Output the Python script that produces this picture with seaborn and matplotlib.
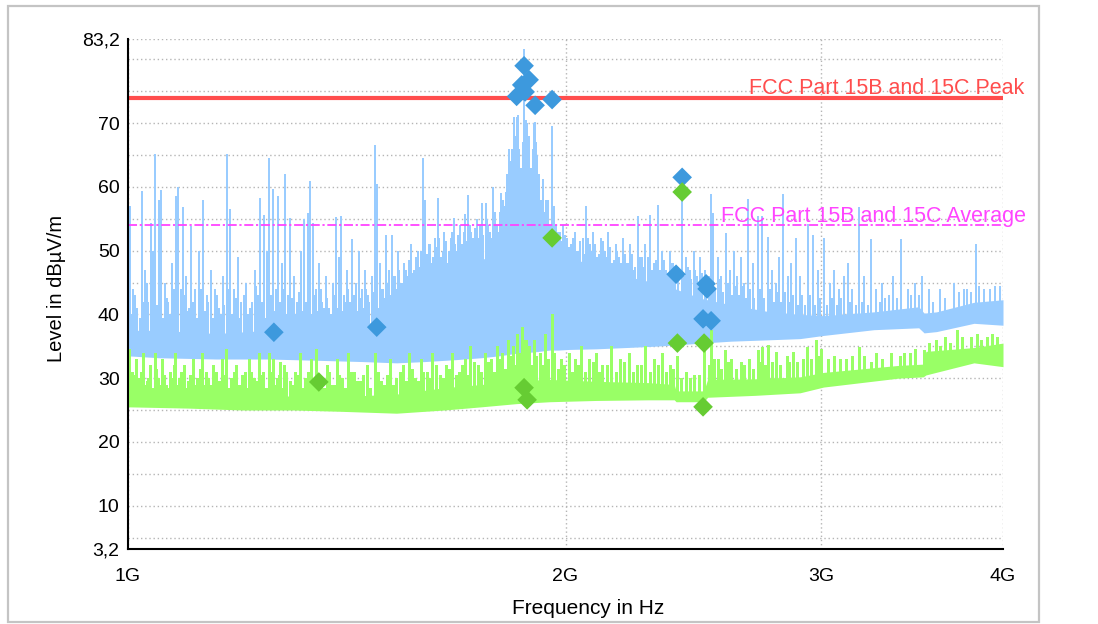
import numpy as np
import matplotlib
matplotlib.use("Agg")
import matplotlib.pyplot as plt
import seaborn as sns
from matplotlib.ticker import FixedLocator, NullLocator, FuncFormatter
from matplotlib.patches import Rectangle

# ---------------- data (MHz / dBµV/m) ----------------
# Peak trace: dense noise band
peak_band_mhz = [1000, 1050, 1150, 1250, 1350, 1450, 1530, 1600, 1680, 1750, 1800, 1850, 1900, 1951,
                 1977, 2010, 2100, 2200, 2300, 2380, 2480, 2600, 2750, 2900, 3010, 3260, 3500, 3530,
                 3600, 3820, 4000]
peak_band_low = [33.5, 33.2, 33.0, 33.0, 32.8, 32.6, 32.4, 32.6, 32.9, 33.2, 33.5, 33.9, 34.1, 34.4,
                 34.4, 34.5, 34.6, 34.8, 35.0, 35.2, 35.5, 35.8, 36.0, 36.2, 36.7, 37.6, 37.9, 37.1,
                 37.3, 38.6, 38.3]
peak_band_high = [37.5, 37.5, 37.0, 37.5, 37.5, 38.0, 41.0, 44.0, 46.5, 48.5, 50.0, 52.0, 52.0, 52.0,
                  50.0, 49.0, 47.5, 46.0, 45.0, 44.0, 42.5, 41.5, 40.5, 40.0, 39.8, 40.4, 41.2, 40.2,
                  40.4, 41.9, 42.3]

# Peak trace: emission cluster around 1.87 GHz
peak_cluster_mhz = [1806, 1812, 1818, 1823, 1828, 1833, 1838, 1843, 1848, 1853, 1858, 1863, 1868, 1873,
                    1878, 1883, 1888, 1893, 1898, 1903, 1908, 1913, 1918, 1924, 1930, 1937, 1944, 1951,
                    1958]
peak_cluster_db = [55, 58, 57, 62, 65, 64, 66, 70, 68, 71, 66, 63, 67, 72,
                   65, 70, 68, 63, 66, 70, 67, 60, 62, 58, 60, 56, 58, 54, 56]

# Peak trace: low spike forest
peak_forest_mhz = [1005, 1011, 1019, 1025, 1030, 1039, 1047, 1052, 1057, 1063, 1069, 1075, 1081, 1089,
                   1093, 1099, 1108, 1115, 1123, 1130, 1136, 1144, 1151, 1158, 1165, 1172, 1180, 1187,
                   1194, 1201, 1209, 1218, 1225, 1231, 1237, 1244, 1255, 1262, 1272, 1280, 1286, 1296,
                   1304, 1312, 1319, 1326, 1338, 1344, 1350, 1357, 1364, 1371, 1379, 1387, 1394, 1399,
                   1406, 1412, 1418, 1424, 1431, 1437, 1444, 1452, 1459, 1466, 1475, 1487, 1493, 1500,
                   1508, 1515, 1522, 1529, 1537, 1545, 1553, 1561, 1570, 1578, 1586, 1592, 1598, 1606,
                   1614, 1622, 1630, 1638, 1646, 1654, 1662, 1671, 1680, 1688, 1695, 1702, 1710, 1718,
                   1726, 1734, 1741, 1748, 1756, 1766, 1774, 1786, 1794, 1802, 1808, 1816, 1975, 1988,
                   1999, 2011, 2024, 2036, 2048, 2061, 2072, 2084, 2096, 2109, 2121, 2134, 2146, 2159,
                   2171, 2184, 2196, 2209, 2221, 2234, 2251, 2264, 2278, 2293, 2308, 2322, 2336, 2351,
                   2366, 2380, 2392, 2413, 2427, 2441, 2456, 2469, 2482, 2500, 2512, 2535, 2550, 2566,
                   2588, 2602, 2618, 2632, 2648, 2663, 2680, 2698, 2720, 2740, 2766, 2783, 2798, 2815,
                   2832, 2852, 2870, 2890, 2910, 2925, 2945, 2970, 2995, 3025, 3050, 3075, 3095, 3140,
                   3170, 3200, 3230, 3290, 3320, 3380, 3460, 3500, 3580, 3650, 3730, 3780, 3850, 3920,
                   3980]
peak_forest_db = [40, 43, 39.5, 42, 45, 40, 41.5, 44, 39.5, 42.5, 40, 44, 41, 39.5,
                  43, 40.5, 42, 39.5, 44, 40.5, 42, 39.5, 43, 40, 41.5, 44, 40, 42.5,
                  39.5, 43, 40, 42, 44.5, 40, 42, 39.5, 43, 40.5, 42, 44, 40, 42.5,
                  40, 43.5, 40.5, 42, 40, 43, 40.5, 44, 41, 42.5, 40, 43, 41, 44.5,
                  40.5, 42, 44, 41, 43, 40.5, 42.5, 41, 44, 42, 43.5, 41, 44, 42.5,
                  45, 43, 46, 44, 47, 45, 47, 48.5, 46.5, 49, 47.5, 50, 48, 49.5,
                  51, 49, 50.5, 52, 50, 51.5, 50, 53, 51, 52.5, 50.5, 53, 51.5, 54,
                  52, 53.5, 51.5, 54, 52.5, 55, 53, 55.5, 54, 56, 54.5, 57, 53, 51.5,
                  52.5, 50.5, 52, 50, 51.5, 49.5, 52, 50, 51, 49.5, 51.5, 49, 50.5, 48.5,
                  50, 48, 49.5, 48, 49.5, 47.5, 49, 47.5, 49, 47, 48.5, 47, 48.5, 46.5,
                  48, 46.5, 47.5, 46, 47.5, 45.5, 47, 45, 46.5, 44.5, 46, 44, 45.5, 43.5,
                  45, 43, 44.5, 43, 44.5, 42.5, 44, 42.5, 44, 42.5, 44, 42, 43.5, 42,
                  43.5, 42, 43, 41.5, 43, 41.5, 43, 41.5, 42.5, 41.5, 42.5, 41.5, 42.5, 42,
                  41.5, 42, 41.5, 42, 42.5, 42.5, 43, 43, 42, 42.5, 43.5, 44, 44.5, 44,
                  44.5]

# Peak trace: tall spikes
peak_spike_mhz = [1003, 1008, 1015, 1022, 1027, 1033, 1037, 1041, 1044, 1050, 1054, 1060, 1066, 1072,
                  1079, 1083, 1087, 1091, 1096, 1101, 1105, 1112, 1119, 1127, 1133, 1140, 1148, 1155,
                  1162, 1169, 1176, 1183, 1190, 1197, 1205, 1214, 1222, 1228, 1233, 1241, 1246, 1251,
                  1259, 1264, 1269, 1276, 1283, 1288, 1293, 1300, 1308, 1316, 1322, 1330, 1335, 1341,
                  1346, 1353, 1360, 1368, 1375, 1384, 1391, 1396, 1402, 1409, 1415, 1421, 1427, 1434,
                  1441, 1449, 1456, 1463, 1472, 1479, 1484, 1490, 1497, 1505, 1512, 1519, 1526, 1533,
                  1541, 1549, 1557, 1566, 1574, 1582, 1589, 1595, 1602, 1610, 1618, 1626, 1634, 1642,
                  1650, 1658, 1667, 1676, 1684, 1692, 1698, 1706, 1714, 1722, 1730, 1738, 1745, 1751,
                  1762, 1770, 1777, 1783, 1790, 1798, 1805, 1812, 1820, 1828, 1837, 1843, 1855, 1873,
                  1880, 1888, 1898, 1906, 1912, 1918, 1930, 1940, 1958, 1964, 1970, 1982, 1993, 2005,
                  2018, 2030, 2042, 2055, 2067, 2078, 2090, 2103, 2115, 2128, 2140, 2152, 2165, 2178,
                  2190, 2203, 2215, 2228, 2245, 2258, 2270, 2287, 2300, 2317, 2330, 2345, 2360, 2372,
                  2406, 2420, 2435, 2450, 2462, 2475, 2495, 2519, 2527, 2545, 2560, 2580, 2595, 2610,
                  2625, 2640, 2655, 2671, 2690, 2714, 2732, 2758, 2775, 2790, 2805, 2825, 2845, 2860,
                  2880, 2900, 2935, 2960, 2985, 3014, 3040, 3060, 3085, 3110, 3130, 3150, 3185, 3210,
                  3245, 3270, 3300, 3340, 3360, 3405, 3440, 3480, 3520, 3560, 3620, 3700, 3760, 3800,
                  3830, 3880, 3950]
peak_spike_db = [57.0, 44, 41, 59.4, 47, 42, 54.3, 50, 65.2, 58.0, 59.5, 45, 42, 48,
                 58.6, 60.0, 44, 56.8, 46, 41, 53.9, 44, 50, 58.0, 43, 47, 44, 41,
                 46, 65.1, 56.5, 44, 49, 42, 45, 41, 47, 43, 58.2, 55.6, 50, 64.5,
                 59.7, 44, 58.6, 48, 62.1, 43, 55.1, 46, 42, 50, 55.0, 55.9, 60.9, 54.4,
                 44, 48, 42, 46, 41, 45, 55.3, 49, 55.4, 43, 47, 42, 51.8, 45,
                 50, 44, 47, 43, 46, 66.6, 60.4, 48, 44, 52.4, 47, 52.4, 46, 50,
                 45, 48, 46, 51, 47, 50, 46, 64.5, 58.0, 51, 48, 52, 58.2, 49,
                 53, 48, 52, 55.1, 50, 54, 51, 55.7, 58.8, 53, 50, 55, 52, 57.4,
                 57.4, 54, 52, 60.0, 56, 53, 59.0, 56, 59.2, 65.9, 66.0, 71.0, 71.3, 81.6,
                 70.5, 68.0, 63, 70.2, 65, 60, 61.2, 58, 69.5, 57.0, 54, 53, 54.0, 52,
                 51, 53, 50, 52, 57.0, 51, 53, 49, 52, 50, 53, 48, 51, 49,
                 52, 48, 51, 47, 55.4, 49, 51, 55.6, 48, 57.1, 50, 47, 50, 48,
                 61.0, 49, 47, 50, 46, 49, 47, 58.9, 55.9, 49, 46, 52.7, 47, 50,
                 46, 49, 45, 58.1, 48, 55.5, 55.5, 52.1, 47, 45, 49, 58.9, 46, 48,
                 52.0, 46, 54.2, 52.5, 47, 52.0, 45, 47, 44, 46, 48, 44, 56.8, 46,
                 51.9, 44, 45, 43, 46, 51.8, 44, 45, 46, 44, 44, 45, 44, 43.5,
                 51, 44, 44.5]

# Average trace: dense noise band
avg_band_mhz = [1000, 1100, 1200, 1300, 1400, 1530, 1650, 1750, 1850, 1950, 2100, 2280, 2376,
                2383, 2490, 2505, 2700, 2900, 3010, 3390, 3525, 3540, 3820, 4000]
avg_band_low = [25.5, 25.3, 25.0, 25.0, 24.8, 24.5, 25.0, 25.5, 26.0, 26.3, 26.5, 26.6, 26.6,
                26.3, 26.3, 27.0, 27.3, 27.7, 28.6, 30.0, 30.2, 30.5, 32.4, 31.8]
avg_band_high = [27.6, 27.4, 27.2, 27.2, 27.1, 27.5, 28.5, 29.0, 29.6, 29.8, 29.5, 29.3, 29.0,
                 28.0, 28.0, 29.8, 29.9, 30.2, 30.9, 32.0, 32.2, 34.2, 34.8, 35.5]

# Average trace: low spike forest
avg_forest_mhz = [1004, 1009, 1015, 1021, 1027, 1033, 1040, 1046, 1052, 1058, 1065, 1072, 1075, 1081,
                  1088, 1095, 1103, 1112, 1120, 1128, 1135, 1141, 1149, 1156, 1164, 1172, 1182, 1190,
                  1198, 1207, 1216, 1225, 1235, 1244, 1254, 1262, 1270, 1276, 1285, 1297, 1308, 1318,
                  1329, 1341, 1352, 1364, 1376, 1388, 1398, 1410, 1424, 1437, 1452, 1468, 1482, 1493,
                  1507, 1522, 1538, 1553, 1567, 1582, 1597, 1612, 1630, 1648, 1663, 1681, 1697, 1712,
                  1730, 1750, 1769, 1787, 1803, 1818, 1832, 1846, 1859, 1884, 1895, 1910, 1927, 1945,
                  1975, 1995, 2020, 2040, 2063, 2088, 2110, 2135, 2165, 2195, 2225, 2255, 2285, 2315,
                  2345, 2372, 2400, 2435, 2470, 2510, 2530, 2558, 2587, 2620, 2655, 2690, 2720, 2745,
                  2775, 2810, 2850, 2885, 2915, 2950, 2990, 3030, 3090, 3150, 3210, 3270, 3350, 3420,
                  3480, 3560, 3600, 3650, 3750, 3840, 3930]
avg_forest_db = [29, 30.5, 28.5, 31, 29, 30, 28.5, 31.5, 29, 30.5, 28.5, 30, 32, 29,
                 31, 28.5, 30.5, 29, 31.5, 29, 30, 28.5, 31, 29.5, 30.5, 28.5, 31, 29,
                 30.5, 28.5, 31, 29.5, 30.5, 28.5, 31, 29, 30.5, 28.5, 31, 29, 30.5, 28.5,
                 31, 29.5, 30.5, 28.5, 31, 29, 30.5, 28.5, 31, 29.5, 30.5, 28.5, 31, 29.5,
                 30.5, 29, 31, 29.5, 31.5, 29.5, 31, 30, 32, 30, 31.5, 30.5, 32, 30.5,
                 32.5, 31, 32.5, 31, 33, 31.5, 33.5, 32, 34, 33, 32, 33.5, 32, 33,
                 31.5, 32, 31, 32, 31, 32.5, 31, 32, 31, 32.5, 31, 32, 31, 32,
                 31, 31.5, 30, 30, 30.5, 32, 33, 31.5, 32.5, 31.5, 32, 31.5, 32.5, 32,
                 32.5, 32, 32.5, 32.5, 33, 33, 33.5, 33, 33, 33.5, 33.5, 34, 34, 34,
                 34.5, 35.5, 36, 36.5, 36.5, 37, 37]

# Average trace: tall spikes
avg_spike_mhz = [1002, 1006, 1012, 1018, 1024, 1030, 1036, 1043, 1049, 1055, 1062, 1069, 1078, 1084,
                 1092, 1099, 1108, 1116, 1124, 1131, 1138, 1145, 1152, 1160, 1168, 1178, 1186, 1194,
                 1203, 1212, 1220, 1231, 1239, 1250, 1258, 1267, 1273, 1280, 1292, 1303, 1313, 1324,
                 1336, 1346, 1358, 1370, 1382, 1393, 1404, 1418, 1430, 1445, 1460, 1478, 1486, 1500,
                 1514, 1530, 1546, 1560, 1575, 1590, 1605, 1620, 1640, 1655, 1672, 1690, 1705, 1720,
                 1740, 1760, 1778, 1795, 1810, 1825, 1840, 1852, 1866, 1873, 1878, 1888, 1902, 1920,
                 1935, 1958, 1965, 1985, 2010, 2030, 2050, 2075, 2100, 2120, 2150, 2180, 2210, 2240,
                 2270, 2300, 2330, 2360, 2388, 2420, 2450, 2491, 2519, 2545, 2573, 2600, 2640, 2675,
                 2714, 2732, 2758, 2790, 2840, 2866, 2930, 2975, 3000, 3060, 3120, 3185, 3245, 3300,
                 3400, 3450, 3530, 3620, 3680, 3720, 3800, 3860, 3900, 3960]
avg_spike_db = [34.5, 31, 33, 30, 34, 29.5, 32, 34, 30, 33, 29, 31, 34, 30,
                32, 29.5, 33, 30, 34, 31, 29, 32, 29, 33, 34.5, 30, 32, 29,
                31, 33, 30, 34, 31, 34, 33, 30, 32.5, 32, 29.5, 31, 34, 30,
                33, 34.5, 30, 32, 29, 33, 30, 34, 31, 29.5, 32, 34, 31, 29,
                33, 30, 32, 34, 30, 33, 31, 34, 30.5, 32, 34, 31, 33, 35,
                32, 34, 33, 35, 34, 36, 35, 37, 38, 36, 36, 35, 36, 34,
                37, 40, 34, 33, 34, 33, 35, 33, 34, 32, 35, 33, 34, 32,
                35, 33, 34, 32, 33.5, 31, 30.5, 35.5, 37.6, 33, 34.4, 33, 32.5, 33,
                34.4, 34.9, 35.2, 34.1, 33.5, 34.1, 34.9, 36.0, 34.6, 33.5, 33, 34.9, 32.5, 33,
                33.5, 34, 34.4, 35, 35.5, 37.6, 36.5, 36, 36.5, 36.5]

# Final measurement results
peak_mark_mhz = [1260, 1483, 1851, 1866, 1876, 1873, 1888, 1906, 1958, 2383, 2406, 2499, 2503, 2487, 2519]
peak_mark_db = [37.2, 38.0, 74.2, 76.0, 74.9, 79.0, 76.8, 72.8, 73.7, 46.3, 61.5, 44.8, 44.0, 39.3, 39.0]
avg_mark_mhz = [1353, 1873, 1882, 1958, 2406, 2388, 2491, 2487]
avg_mark_db = [29.4, 28.5, 26.6, 52.0, 59.2, 35.5, 35.5, 25.5]

# Limits
limit_mhz = [1000, 4000]
limit_peak_db = [74, 74]
limit_avg_db = [54, 54]

x_ticks_hz = [1e9, 2e9, 3e9, 4e9]
x_tick_labels = ["1G", "2G", "3G", "4G"]
y_major = [3.2, 10, 20, 30, 40, 50, 60, 70, 83.2]
y_minor = [5, 15, 25, 35, 45, 55, 65, 75, 80]

# ---------------- styling ----------------
BLUE = "#99ccff"
GREEN = "#99ff66"
BLUE_MK = "#3d99dd"
GREEN_MK = "#66cc33"
RED = "#ff4d4d"
MAGENTA = "#ff44ff"

sns.set_theme(style="white")
plt.rcParams["font.family"] = ["Liberation Sans", "DejaVu Sans"]

W, H = 1098, 624
fig = plt.figure(figsize=(W / 100, H / 100), dpi=100)
fig.patch.set_facecolor("white")
ax = fig.add_axes([128 / W, 75 / H, 875 / W, 510 / H])
ax.set_facecolor("white")
ax.set_xscale("log")

hz = lambda a: np.asarray(a, dtype=float) * 1e6
logi = lambda f, fb, vb: np.interp(np.log(hz(f)), np.log(hz(fb)), vb)

SPB = dict(lw=1.2, antialiased=False)
SPG = dict(lw=1.0, antialiased=False)

# Peak trace
ax.fill_between(hz(peak_band_mhz), peak_band_low, peak_band_high, color=BLUE, lw=0, zorder=2)
ax.fill_between(hz(peak_cluster_mhz), 40, peak_cluster_db, step="mid", color=BLUE, lw=0, zorder=2)
ax.vlines(hz(peak_forest_mhz), logi(peak_forest_mhz, peak_band_mhz, peak_band_high) - 1,
          peak_forest_db, color=BLUE, zorder=2, **SPB)
ax.vlines(hz(peak_spike_mhz), logi(peak_spike_mhz, peak_band_mhz, peak_band_high) - 1,
          peak_spike_db, color=BLUE, zorder=2, **SPB)

# Average trace
ax.fill_between(hz(avg_band_mhz), avg_band_low, avg_band_high, color=GREEN, lw=0, zorder=3)
ax.vlines(hz(avg_forest_mhz), logi(avg_forest_mhz, avg_band_mhz, avg_band_high) - 1,
          avg_forest_db, color=GREEN, zorder=3, **SPG)
ax.vlines(hz(avg_spike_mhz), logi(avg_spike_mhz, avg_band_mhz, avg_band_high) - 1,
          avg_spike_db, color=GREEN, zorder=3, **SPG)

# Limit lines
ax.plot(hz(limit_mhz), limit_peak_db, color=RED, lw=3, zorder=4, solid_capstyle="butt")
ax.plot(hz(limit_mhz), limit_avg_db, color=MAGENTA, lw=1.3, zorder=4,
        linestyle=(0, (5, 1.5, 1.2, 1.5)))

# Final measurement markers
sns.scatterplot(x=hz(peak_mark_mhz), y=peak_mark_db, marker="D", s=100, color=BLUE_MK,
                edgecolor="none", linewidth=0, ax=ax, zorder=6, legend=False)
sns.scatterplot(x=hz(avg_mark_mhz), y=avg_mark_db, marker="D", s=100, color=GREEN_MK,
                edgecolor="none", linewidth=0, ax=ax, zorder=6, legend=False)

# Limit labels
ax.text(2675e6, 74.55, "FCC Part 15B and 15C Peak", color=RED, fontsize=15.5,
        ha="left", va="baseline", clip_on=False, zorder=7)
ax.text(2559e6, 54.5, "FCC Part 15B and 15C Average", color=MAGENTA, fontsize=15.5,
        ha="left", va="baseline", clip_on=False, zorder=7)

# Axes
ax.set_xlim(1e9, 4e9)
ax.set_ylim(3.2, 83.2)
ax.xaxis.set_major_locator(FixedLocator(x_ticks_hz))
ax.xaxis.set_minor_locator(NullLocator())
ax.set_xticklabels(x_tick_labels)
ax.yaxis.set_major_locator(FixedLocator(y_major))
ax.yaxis.set_minor_locator(FixedLocator(y_minor))
ax.yaxis.set_major_formatter(FuncFormatter(lambda v, p: ("%g" % v).replace(".", ",")))

grid_kw = dict(color="#b5b5b5", linestyle=(0, (1, 2)), linewidth=1.0)
ax.grid(True, which="both", axis="y", **grid_kw)
ax.grid(True, which="major", axis="x", **grid_kw)
ax.set_axisbelow(True)

for s in ["top", "right"]:
    ax.spines[s].set_visible(False)
for s in ["left", "bottom"]:
    ax.spines[s].set_color("black")
    ax.spines[s].set_linewidth(1.5)
    ax.spines[s].set_zorder(8)

ax.tick_params(axis="both", which="both", direction="inout", length=10, width=1.4,
               color="black", labelcolor="black", labelsize=14)
ax.tick_params(axis="x", which="major", pad=9)
ax.tick_params(axis="y", which="major", pad=1)
ax.set_xlabel("")
ax.set_ylabel("")

fig.text(56 / W, 1 - 288 / H, "Level in dBµV/m", rotation=90, ha="center", va="center",
         fontsize=14.5, color="black")
fig.text(588 / W, 1 - 614 / H, "Frequency in Hz", ha="center", va="baseline",
         fontsize=15, color="black")

# outer frame
fig.add_artist(Rectangle((7.5 / W, 2 / H), (1039 - 7.5) / W, 616 / H, transform=fig.transFigure,
                         fill=False, edgecolor="#c4c4c4", linewidth=1.6, zorder=0))

fig.savefig("out.png", dpi=100, facecolor="white")
